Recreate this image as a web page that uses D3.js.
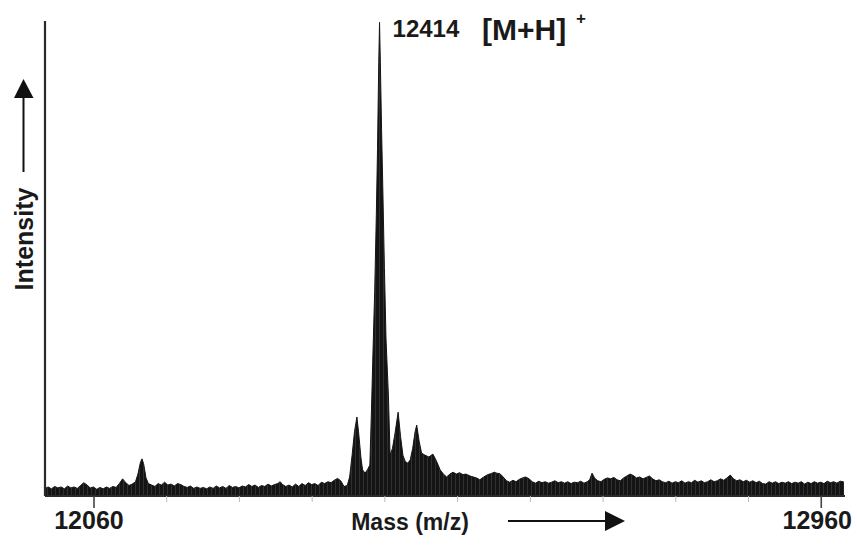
<!DOCTYPE html>
<html>
<head>
<meta charset="utf-8">
<script src="https://cdn.jsdelivr.net/npm/d3@7"></script>
<style>
  html, body { margin: 0; padding: 0; background: #fff; }
  svg { display: block; }
  text { font-family: "Liberation Sans", Arial, sans-serif; font-weight: bold; fill: #1a1a1a; }
</style>
</head>
<body>
<svg id="chart" width="857" height="545"></svg>
<script>
// ---- data ----
const masses = [
  12000,12004,12008,12012,12016,12020,12024,12028,12032,12036,12040,12044,12048,12052,12056,12060,
  12064,12068,12072,12076,12080,12084,12088,12092,12096,12100,12104,12108,12112,12115,12118,12120,
  12122,12125,12128,12132,12136,12140,12144,12148,12152,12156,12160,12164,12168,12172,12176,12180,
  12184,12188,12192,12196,12200,12204,12208,12212,12216,12220,12224,12228,12232,12236,12240,12244,
  12248,12252,12256,12260,12264,12268,12272,12276,12280,12284,12288,12291,12294,12298,12302,12306,
  12310,12314,12318,12322,12326,12330,12334,12338,12342,12346,12350,12354,12358,12362,12366,12370,
  12374,12377,12380,12383,12386,12388,12391,12393,12396,12399,12402,12404,12406,12408,12410,12411.5,
  12413,12414,12415,12416.5,12418,12420,12422,12425,12427,12430,12433,12437,12440,12443,12446,12449,
  12452,12455,12458,12460,12463,12466,12470,12475,12480,12484,12489,12493,12497,12501,12505,12509,
  12513,12517,12521,12526,12530,12534,12538,12543,12548,12552,12556,12559,12563,12567,12571,12575,
  12579,12583,12587,12591,12595,12599,12603,12607,12611,12615,12619,12623,12627,12631,12635,12639,
  12643,12647,12651,12655,12659,12663,12667,12671,12674,12677,12680,12684,12688,12692,12696,12700,
  12704,12708,12712,12716,12720,12724,12728,12732,12736,12740,12744,12748,12752,12756,12760,12764,
  12768,12772,12776,12780,12784,12788,12792,12796,12800,12804,12808,12812,12816,12820,12824,12828,
  12832,12836,12840,12844,12848,12852,12856,12860,12864,12868,12872,12876,12880,12884,12888,12892,
  12896,12900,12904,12908,12912,12916,12920,12924,12928,12932,12936,12940,12944,12948,12952,12956,
  12960,12964,12968,12972,12976,12980,12984,12988
];
const intensities = [
  1.6,1.9,1.5,2.0,1.7,1.9,1.5,2.1,1.7,1.9,1.6,2.2,2.8,2.3,1.7,1.9,
  1.4,1.8,1.5,1.9,1.6,2.0,1.8,2.6,3.6,2.8,2.2,2.5,3.0,4.6,7.0,7.8,
  6.8,3.8,2.6,2.3,2.0,2.6,2.3,2.9,2.3,2.5,2.1,2.6,2.4,2.0,1.8,2.1,
  1.6,1.9,1.6,1.8,1.5,1.9,1.6,2.1,1.7,2.0,1.6,2.2,1.8,2.0,1.7,2.1,
  1.9,2.4,2.0,2.3,1.8,2.2,2.0,2.5,2.1,2.4,2.6,3.0,2.4,2.0,2.3,1.9,
  2.5,2.0,2.6,2.2,2.8,2.4,2.6,2.2,2.9,2.6,3.0,2.8,3.3,3.7,3.2,2.0,
  2.2,4.0,8.5,13.5,16.6,13.5,8.0,5.5,4.8,5.5,6.5,18,31,43,59,73,
  91,99.5,91,77,65,48,33,21,8.6,10,13,17.6,12.5,8.5,7.2,6.9,
  7.6,10.0,13.5,14.9,11.5,9.0,8.6,8.2,8.8,7.5,5.5,4.6,4.0,4.6,5.0,4.6,
  4.9,4.5,4.6,4.2,4.0,3.8,3.4,4.0,4.5,4.7,5.0,4.8,4.7,4.0,3.2,2.9,
  3.3,3.0,3.5,3.8,4.0,3.6,3.0,2.7,3.1,2.8,3.0,2.7,2.9,3.2,2.8,3.0,
  2.7,3.0,2.6,2.9,2.8,3.1,2.7,3.0,3.4,4.8,3.8,3.2,3.0,3.5,3.8,3.6,
  3.9,3.4,3.2,3.8,4.2,4.6,4.3,3.8,4.0,3.6,3.9,4.2,3.6,3.2,3.4,3.0,
  2.8,3.1,2.7,3.0,2.8,3.2,2.7,3.0,2.8,3.3,2.9,3.2,2.8,3.0,3.4,3.0,
  3.2,3.6,3.3,3.8,4.4,3.6,3.2,3.4,3.0,3.3,2.9,3.2,2.8,3.1,2.6,2.5,
  3.0,2.7,3.0,2.6,2.9,2.7,3.0,2.6,2.9,2.7,3.0,2.5,2.9,2.6,3.0,2.7,
  2.9,2.6,3.1,2.8,3.0,2.7,3.1,3.0
];
const tickMasses = [12060,12150,12240,12330,12420,12510,12600,12690,12780,12870,12960];
const tickLabels = [12060, 12960];
const massDomain = [12000, 12990];
const intensityDomain = [0, 100];
const peakMass = 12414;
const peakLabel = "12414";
const ionLabel = "[M+H]";
const ionCharge = "+";
const xTitle = "Mass (m/z)";
const yTitle = "Intensity";

// ---- drawing ----
const svg = d3.select("#chart");
const x = d3.scaleLinear().domain(massDomain).range([45, 845]);
const y = d3.scaleLinear().domain(intensityDomain).range([496, 20]);

const data = masses.map((m, i) => ({ m, v: intensities[i] }));

// stripe texture like the original bar-rendered spectrum
const defs = svg.append("defs");
const pat = defs.append("pattern")
  .attr("id", "stripes").attr("patternUnits", "userSpaceOnUse")
  .attr("width", 4).attr("height", 10);
pat.append("rect").attr("width", 4).attr("height", 10).attr("fill", "#141414");
pat.append("rect").attr("x", 3).attr("width", 0.8).attr("height", 10).attr("fill", "#5a5a5a").attr("opacity", 0.5);

const area = d3.area()
  .x(d => x(d.m))
  .y0(y(0))
  .y1(d => y(d.v))
  .curve(d3.curveLinear);

svg.append("path")
  .datum(data)
  .attr("d", area)
  .attr("fill", "url(#stripes)")
  .attr("stroke", "#151515")
  .attr("stroke-width", 1)
  .attr("stroke-linejoin", "round");

// x axis
const xAxis = d3.axisBottom(x)
  .tickValues(tickMasses)
  .tickSize(6)
  .tickSizeOuter(0)
  .tickPadding(9)
  .tickFormat(d => tickLabels.includes(d) ? String(d) : "");
const gx = svg.append("g").attr("transform", `translate(0,${y(0)})`).call(xAxis);
gx.select(".domain").attr("stroke", "#2a2a2a").attr("stroke-width", 2.2)
  .attr("d", `M${x(massDomain[0])},0H${x(massDomain[1]) }`);
gx.selectAll(".tick line")
  .attr("stroke", d => tickLabels.includes(d) ? "#444" : "#bbb")
  .attr("stroke-width", d => tickLabels.includes(d) ? 1.6 : 1)
  .attr("y2", d => tickLabels.includes(d) ? 12 : 6);
gx.selectAll(".tick text")
  .attr("font-size", 25)
  .attr("font-family", "Liberation Sans, Arial, sans-serif")
  .attr("font-weight", "bold")
  .attr("fill", "#1a1a1a")
  .attr("dx", d => d === tickLabels[0] ? -5 : -4);

// y axis
const yAxis = d3.axisLeft(y).tickValues([]).tickSizeOuter(0);
const gy = svg.append("g").attr("transform", `translate(${x(massDomain[0])},0)`).call(yAxis);
gy.select(".domain").attr("stroke", "#2a2a2a").attr("stroke-width", 2.2)
  .attr("d", `M0,${y(intensityDomain[0])}V${y(intensityDomain[1]) + 1}`);

// peak label
svg.append("text")
  .attr("x", x(peakMass) + 13).attr("y", 37)
  .attr("font-size", 24)
  .text(peakLabel);
svg.append("text")
  .attr("x", 482).attr("y", 40)
  .attr("font-size", 30)
  .text(ionLabel);
svg.append("text")
  .attr("x", 581).attr("y", 24)
  .attr("text-anchor", "middle")
  .attr("font-size", 17)
  .text(ionCharge);

// x title + arrow
svg.append("text")
  .attr("x", 410).attr("y", 530)
  .attr("text-anchor", "middle")
  .attr("font-size", 23)
  .text(xTitle);
svg.append("line")
  .attr("x1", 508).attr("x2", 607).attr("y1", 521).attr("y2", 521)
  .attr("stroke", "#111").attr("stroke-width", 2);
svg.append("path")
  .attr("d", "M605,511L625,521L605,531Z")
  .attr("fill", "#111");

// y title + arrow
svg.append("text")
  .attr("transform", "translate(33,239) rotate(-90)")
  .attr("text-anchor", "middle")
  .attr("font-size", 25)
  .text(yTitle);
svg.append("line")
  .attr("x1", 23.5).attr("x2", 23.5).attr("y1", 172).attr("y2", 96)
  .attr("stroke", "#111").attr("stroke-width", 2);
svg.append("path")
  .attr("d", "M14,98L23.5,79L33.5,98Z")
  .attr("fill", "#111");
</script>
</body>
</html>
